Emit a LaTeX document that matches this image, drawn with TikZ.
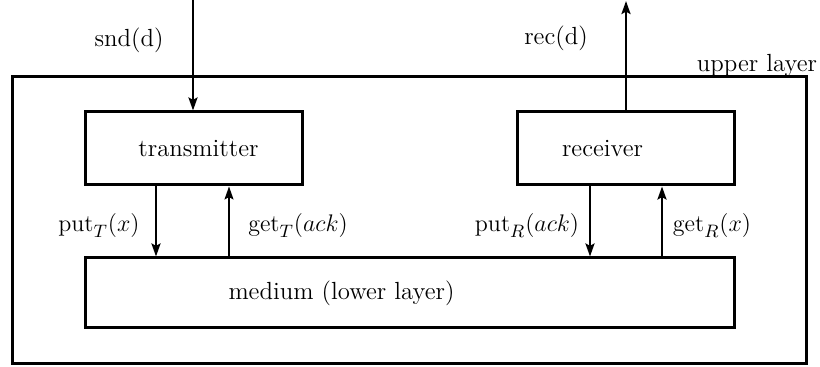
\documentclass[tikz,border=0pt]{standalone}
\usetikzlibrary{arrows.meta}
\begin{document}
\begin{tikzpicture}[x=0.5pt,y=-0.5pt,
  every node/.style={font=\fontsize{12.4}{14}\selectfont},
  box/.style={draw,line width=1.5pt,inner sep=0pt},
  tip/.style={-{Stealth[length=6.5pt,width=4.5pt,inset=1.2pt]}},
  flow/.style={line width=1.2pt,tip},
  thinflow/.style={line width=0.8pt,tip},
  lbl/.style={inner sep=0pt}]
  \useasboundingbox (0,0) rectangle (820,367);
  % outer frame: upper layer
  \node[box,minimum width=397pt,minimum height=143.5pt] (upper) at (409,220.5) {};
  \node[lbl] (upperlbl) at (757,65) {upper layer};
  % components
  \node[box,minimum width=108.5pt,minimum height=36.5pt,
        label={[xshift=2.5pt]center:transmitter}] (tx) at (193.5,148.5) {};
  \node[box,minimum width=108.5pt,minimum height=36.5pt,
        label={[xshift=-11.5pt]center:receiver}] (rx) at (625.5,148.5) {};
  \node[box,minimum width=324.5pt,minimum height=35pt,
        label={[xshift=-34pt]center:medium (lower layer)}] (med) at (409.5,293) {};
  % external interface
  \coordinate (sndtop) at (193,0);
  \coordinate (rectop) at (626,1);
  \draw[flow] (sndtop) -- (sndtop |- tx.north);
  \node[lbl] (sndlbl) at (129,40) {snd(d)};
  \draw[flow] (rx.north -| rectop) -- (rectop);
  \node[lbl] (reclbl) at (556,38) {rec(d)};
  % medium interface
  \coordinate (putT) at (156,0);
  \coordinate (getT) at (229,0);
  \coordinate (putR) at (590,0);
  \coordinate (getR) at (662,0);
  \draw[flow] (tx.south -| putT) -- (med.north -| putT);
  \draw[thinflow] (med.north -| getT) -- (tx.south -| getT);
  \draw[flow] (rx.south -| putR) -- (med.north -| putR);
  \draw[flow] (med.north -| getR) -- (rx.south -| getR);
  \node[lbl] (putTlbl) at (99,226) {$\mathrm{put}_T(x)$};
  \node[lbl] (getTlbl) at (298,226) {$\mathrm{get}_T(ack)$};
  \node[lbl] (putRlbl) at (527,226) {$\mathrm{put}_R(ack)$};
  \node[lbl] (getRlbl) at (712,226) {$\mathrm{get}_R(x)$};
\end{tikzpicture}
\end{document}
